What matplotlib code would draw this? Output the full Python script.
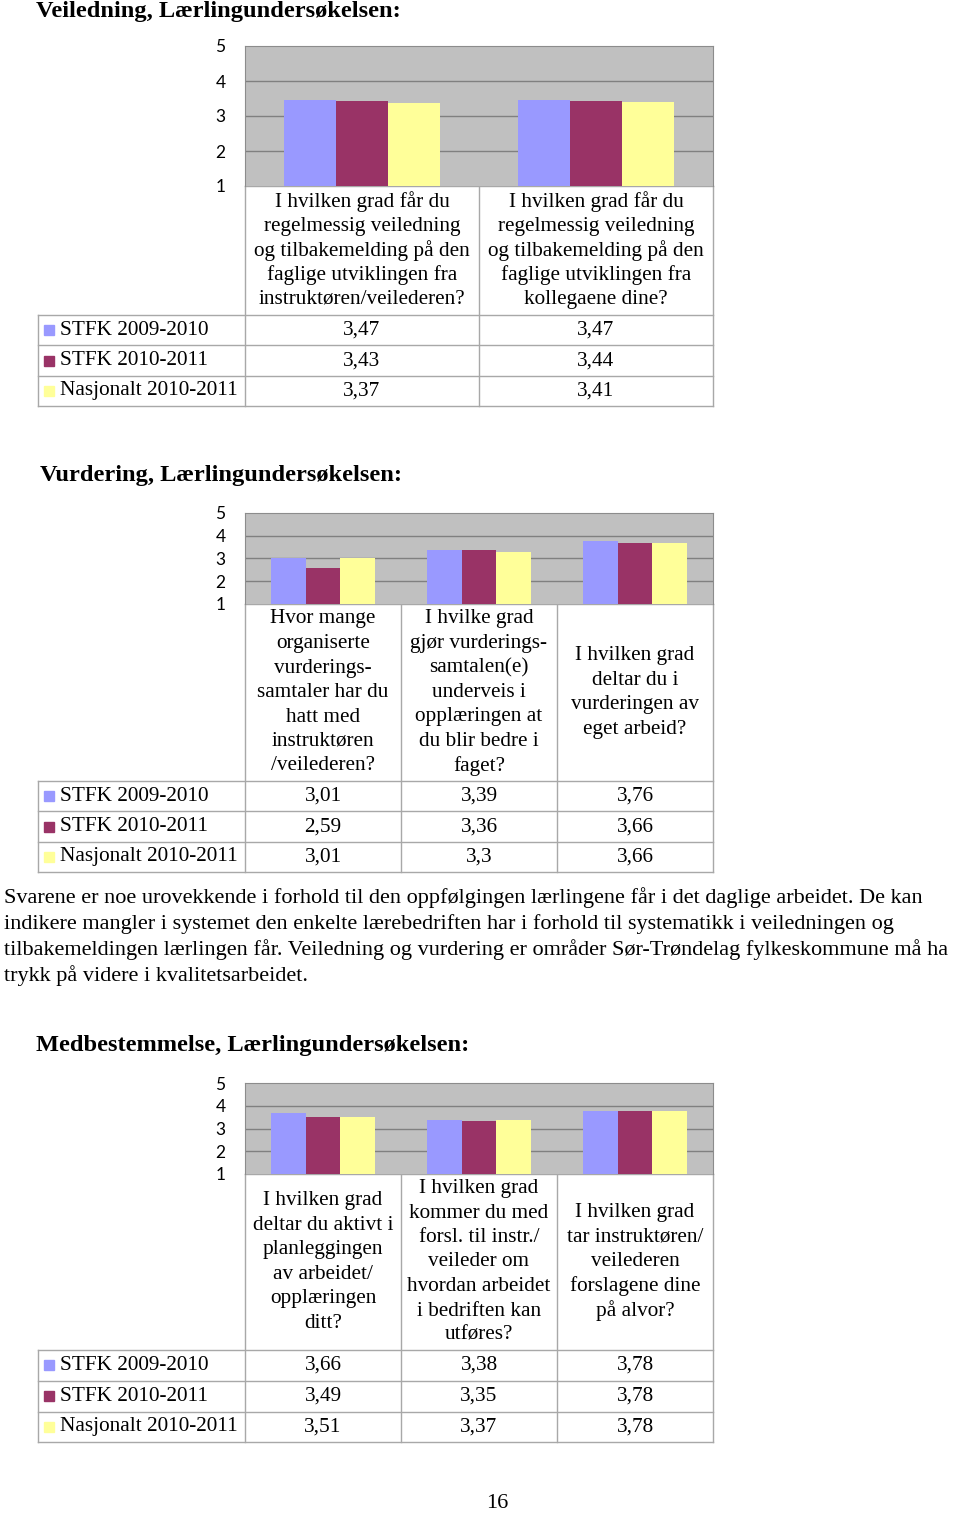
import matplotlib
matplotlib.use("Agg")
import matplotlib.pyplot as plt
from matplotlib.patches import Rectangle

W, H = 960, 1514

# ---- data ----
series = ["STFK 2009-2010", "STFK 2010-2011", "Nasjonalt 2010-2011"]
colors = ["#9999FF", "#993366", "#FFFF99"]

veil_title = "Veiledning, Lærlingundersøkelsen:"
veil_cats = [
    "I hvilken grad får du\nregelmessig veiledning\nog tilbakemelding på den\nfaglige utviklingen fra\ninstruktøren/veilederen?",
    "I hvilken grad får du\nregelmessig veiledning\nog tilbakemelding på den\nfaglige utviklingen fra\nkollegaene dine?",
]
veil_2009 = [3.47, 3.47]
veil_2010 = [3.43, 3.44]
veil_nasj = [3.37, 3.41]

vurd_title = "Vurdering, Lærlingundersøkelsen:"
vurd_cats = [
    "Hvor mange\norganiserte\nvurderings-\nsamtaler har du\nhatt med\ninstruktøren\n/veilederen?",
    "I hvilke grad\ngjør vurderings-\nsamtalen(e)\nunderveis i\nopplæringen at\ndu blir bedre i\nfaget?",
    "I hvilken grad\ndeltar du i\nvurderingen av\neget arbeid?",
]
vurd_2009 = [3.01, 3.39, 3.76]
vurd_2010 = [2.59, 3.36, 3.66]
vurd_nasj = [3.01, 3.3, 3.66]

med_title = "Medbestemmelse, Lærlingundersøkelsen:"
med_cats = [
    "I hvilken grad\ndeltar du aktivt i\nplanleggingen\nav arbeidet/\nopplæringen\nditt?",
    "I hvilken grad\nkommer du med\nforsl. til instr./\nveileder om\nhvordan arbeidet\ni bedriften kan\nutføres?",
    "I hvilken grad\ntar instruktøren/\nveilederen\nforslagene dine\npå alvor?",
]
med_2009 = [3.66, 3.38, 3.78]
med_2010 = [3.49, 3.35, 3.78]
med_nasj = [3.51, 3.37, 3.78]

yticks = [1, 2, 3, 4, 5]

paragraph = [
    "Svarene er noe urovekkende i forhold til den oppfølgingen lærlingene får i det daglige arbeidet. De kan",
    "indikere mangler i systemet den enkelte lærebedriften har i forhold til systematikk i veiledningen og",
    "tilbakemeldingen lærlingen får. Veiledning og vurdering er områder Sør-Trøndelag fylkeskommune må ha",
    "trykk på videre i kvalitetsarbeidet.",
]
page_no = "16"

SERIF = "Liberation Serif"
LINE = "#A8A8A8"
FS = 15.3

fig = plt.figure(figsize=(W / 100, H / 100), dpi=100)
page = fig.add_axes([0, 0, 1, 1])
page.set_xlim(0, W)
page.set_ylim(H, 0)
page.axis("off")


def fmt(v):
    return f"{v:g}".replace(".", ",")


def chart(title, title_xy, cats, vals, top, bottom, cat_bottom, row_h, line_h):
    x0, x1 = 245, 713
    page.text(title_xy[0], title_xy[1], title, family=SERIF, fontweight="bold",
              fontsize=17.6, ha="left", va="center")
    ax = fig.add_axes([x0 / W, 1 - bottom / H, (x1 - x0) / W, (bottom - top) / H])
    ax.set_facecolor("#C0C0C0")
    n = len(cats)
    bw = 2 / 9
    for k, (s, c) in enumerate(zip(vals, colors)):
        xs = [i + 0.5 + (k - 1) * bw for i in range(n)]
        ax.bar(xs, [v - 1 for v in s], bottom=1, width=bw, color=c, zorder=3)
    ax.set_xlim(0, n)
    ax.set_ylim(1, 5)
    ax.set_yticks(yticks)
    ax.set_xticks([])
    for y in yticks[1:-1]:
        ax.axhline(y, color="#808080", lw=1.0, zorder=1)
    for sp in ax.spines.values():
        sp.set_color("#8C8C8C")
        sp.set_linewidth(0.8)
    ax.spines["bottom"].set_visible(False)
    ax.tick_params(axis="y", length=0, pad=14, labelsize=12.5)
    for lab in ax.get_yticklabels():
        lab.set_family("Lato")

    # table
    cw = (x1 - x0) / n
    rows_top = cat_bottom
    rows_bot = cat_bottom + 3 * row_h
    page.plot([x0, x1], [bottom, bottom], color=LINE, lw=1)
    for i in range(n + 1):
        xv = x0 + i * cw
        page.plot([xv, xv], [bottom, rows_bot], color=LINE, lw=1)
    for r in range(4):
        yv = rows_top + r * row_h
        page.plot([38, x1], [yv, yv], color=LINE, lw=1)
    page.plot([38, 38], [rows_top, rows_bot], color=LINE, lw=1)

    cy = (bottom + cat_bottom) / 2
    for i, cat in enumerate(cats):
        lines = cat.split("\n")
        for j, ln in enumerate(lines):
            yy = cy + (j - (len(lines) - 1) / 2) * line_h
            page.text(x0 + (i + 0.5) * cw, yy, ln, family=SERIF, fontsize=FS,
                      ha="center", va="center")
    for r, (name, c, s) in enumerate(zip(series, colors, vals)):
        yc = rows_top + (r + 0.5) * row_h
        page.add_patch(Rectangle((44, yc - 5), 10, 10, color=c))
        page.text(60, yc, name, family=SERIF, fontsize=FS, ha="left", va="center")
        for i, v in enumerate(s):
            page.text(x0 + (i + 0.5) * cw, yc, fmt(v), family=SERIF, fontsize=FS,
                      ha="center", va="center")


chart(veil_title, (36, 11), veil_cats, [veil_2009, veil_2010, veil_nasj],
      46, 186, 315, 30.4, 24.5)
chart(vurd_title, (40, 475), vurd_cats, [vurd_2009, vurd_2010, vurd_nasj],
      513, 604, 781, 30.4, 24.5)
chart(med_title, (36, 1045), med_cats, [med_2009, med_2010, med_nasj],
      1083, 1174, 1350, 30.8, 24.5)

for k, ln in enumerate(paragraph):
    page.text(4, 898 + k * 25.7, ln, family=SERIF, fontsize=16, ha="left", va="center")
page.text(497, 1504, page_no, family=SERIF, fontsize=16, ha="center", va="center")

fig.savefig("out.png", dpi=100)
